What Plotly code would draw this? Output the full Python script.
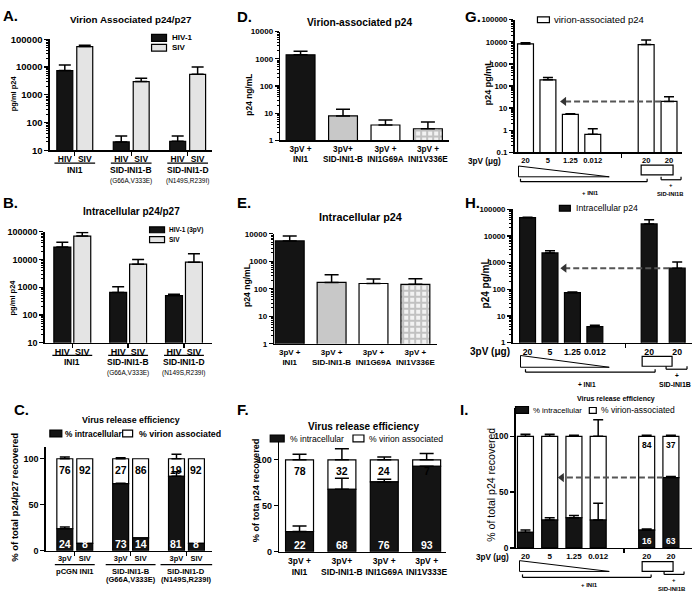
import plotly.graph_objects as go

W, H = 696, 600
FONT = "Liberation Sans, Arial, sans-serif"

# ---------------- data ----------------
# Panel A  (virion associated p24/p27, pg/ml)
A_groups = ["INI1", "SID-INI1-B", "SID-INI1-D"]
A_subs = ["", "(G66A,V333E)", "(N149S,R239I)"]
A_pair = ["HIV", "SIV"]
A_hiv = [7500, 20, 21]
A_hiv_err = [4500, 13, 12]
A_siv = [55000, 3000, 5500]
A_siv_err = [7000, 1000, 4500]
# Panel B  (intracellular p24/p27)
B_hiv = [28000, 650, 500]
B_hiv_err = [14000, 400, 60]
B_siv = [70000, 6800, 8000]
B_siv_err = [25000, 3200, 8000]
# Panel C  (release efficiency, %)
C_groups = ["pCGN INI1", "SID-INI1-B", "SID-INI1-D"]
C_subs = ["", "(G66A,V333E)", "(N149S,R239I)"]
C_pair = ["3pV", "SIV"]
C_3pv_intra = [24, 73, 81]
C_3pv_intra_err = [2, 0.5, 5]
C_3pv_vir = [76, 27, 19]
C_3pv_tot_err = [2, 1, 5]
C_siv_intra = [8, 14, 8]
C_siv_vir = [92, 86, 92]
# Panels D / E / F
D_cats = ["3pV +<br>INI1", "3pV+<br>SID-INI1-B", "3pV +<br>INI1G69A", "3pV +<br>INI1V336E"]
D_vals = [1400, 8, 3.7, 2.7]
D_err = [500, 6, 2, 2.1]
E_cats = ["3pV +<br>INI1", "3pV +<br>SID-INI1-B", "3pV +<br>INI1G69A", "3pV +<br>INI1V336E"]
E_vals = [5500, 170, 155, 145]
E_err = [2700, 150, 70, 85]
F_cats = ["3pV +<br>INI1", "3pV+<br>SID-INI1-B", "3pV +<br>INI1G69A", "3pV +<br>INI1V333E"]
F_intra = [22, 68, 76, 93]
F_intra_err = [6, 12, 3, 0]
F_vir = [78, 32, 24, 7]
F_tot_err = [6, 12, 3, 7]
# Panels G / H / I
GHI_doses = ["20", "5", "1.25", "0.012", "20", "20"]
G_vals = [8000, 190, 5.2, 0.65, 7500, 20]
G_err = [1000, 50, 0.3, 0.5, 4500, 13]
H_vals = [48000, 2300, 75, 4, 28000, 620]
H_err = [2000, 500, 5, 0.5, 12000, 430]
I_intra = [14, 25, 27, 25, 16, 63]
I_intra_err = [2, 2, 2, 15, 1, 1]
I_vir = [86, 75, 73, 75, 84, 37]
I_tot_err = [2, 2, 1, 15, 1, 1]
I_labelled = [4, 5]

# ---------------- helpers ----------------
fig = go.Figure()
layout = {}
annotations = []
shapes = []


def sfx(i):
    return "" if i == 1 else str(i)


def PX(p):
    return p / W


def PY(p):
    return 1 - p / H


def minor_log(lo, hi):
    return [k * 10 ** e for e in range(lo, hi) for k in range(2, 10)]


def add_axes(i, x0, x1, ytop, ybot, ytype, yrange, yticks, yticktext,
             xrange, xtickvals=None, xticktext=None, xminor=None,
             xfont=8.5, yfont=8, yminor=None):
    a = sfx(i)
    xa = dict(domain=[PX(x0), PX(x1)], anchor="y" + a, range=xrange,
              showline=True, linecolor="black", linewidth=1.5,
              showgrid=False, zeroline=False, ticks="", ticklen=0,
              tickvals=xtickvals or [], ticktext=xticktext or [],
              tickfont=dict(size=xfont, color="black", weight="bold", family=FONT),
              fixedrange=True)
    if xminor is not None:
        xa["minor"] = dict(tickvals=xminor, ticks="outside", ticklen=4,
                           tickwidth=1.3, tickcolor="black")
    ya = dict(domain=[PY(ybot), PY(ytop)], anchor="x" + a, type=ytype,
              range=yrange, showline=True, linecolor="black", linewidth=1.5,
              showgrid=False, zeroline=False, ticks="outside", ticklen=4,
              tickwidth=1.3, tickcolor="black", tickvals=yticks,
              ticktext=yticktext,
              tickfont=dict(size=yfont, color="black", weight="bold", family=FONT),
              fixedrange=True)
    if yminor is not None:
        ya["minor"] = dict(tickvals=yminor, ticks="outside", ticklen=2,
                           tickwidth=1, tickcolor="black")
    layout["xaxis" + a] = xa
    layout["yaxis" + a] = ya


def errdict(err, w=5):
    return dict(type="data", symmetric=False, array=err,
                arrayminus=[0] * len(err), color="black", thickness=1.5,
                width=w, visible=True)


def bar(i, xs, ys, err=None, color="black", width=0.8, base=None,
        pattern=None, ew=5):
    a = sfx(i)
    m = dict(color=color, line=dict(color="black", width=1.2))
    if pattern:
        m["pattern"] = pattern
    t = go.Bar(x=xs, y=ys, base=base, width=width, marker=m,
               xaxis="x" + a, yaxis="y" + a, showlegend=False,
               hoverinfo="skip")
    if err is not None:
        t.error_y = errdict(err, ew)
    fig.add_trace(t)


def err_pts(i, xs, tops, err, ew=5):
    a = sfx(i)
    fig.add_trace(go.Scatter(x=xs, y=tops, mode="markers",
                             marker=dict(size=1, color="rgba(0,0,0,0)"),
                             error_y=errdict(err, ew), xaxis="x" + a,
                             yaxis="y" + a, showlegend=False,
                             hoverinfo="skip"))


def arrow(i, x_tail, x_tip, yv):
    a = sfx(i)
    fig.add_trace(go.Scatter(x=[x_tail, x_tip], y=[yv, yv], mode="lines",
                             line=dict(color="#555555", width=2, dash="6px,3px"),
                             xaxis="x" + a, yaxis="y" + a, showlegend=False,
                             hoverinfo="skip"))
    fig.add_trace(go.Scatter(x=[x_tip], y=[yv], mode="markers",
                             marker=dict(symbol="triangle-left", size=8,
                                         color="#333333"),
                             xaxis="x" + a, yaxis="y" + a, showlegend=False,
                             hoverinfo="skip"))


def T(text, x, y, size=8, bold=True, xanchor="center", yanchor="middle",
      angle=0, color="black", xref="paper", yref="paper", yshift=0):
    annotations.append(dict(
        text=text, x=x if xref != "paper" else PX(x),
        y=y if yref != "paper" else PY(y), xref=xref, yref=yref,
        showarrow=False, xanchor=xanchor, yanchor=yanchor, textangle=angle,
        yshift=yshift, borderpad=0,
        font=dict(size=size, color=color, family=FONT,
                  weight="bold" if bold else "normal")))


def line(x0, y0, x1, y1, w=1.2, color="black"):
    shapes.append(dict(type="line", xref="paper", yref="paper",
                       x0=PX(x0), x1=PX(x1), y0=PY(y0), y1=PY(y1),
                       line=dict(color=color, width=w)))


def rect(x0, y0, x1, y1, fill="white", w=1.2):
    shapes.append(dict(type="rect", xref="paper", yref="paper",
                       x0=PX(x0), x1=PX(x1), y0=PY(y0), y1=PY(y1),
                       fillcolor=fill, line=dict(color="black", width=w)))


def wedge(x0, ytop, ybot, x1):
    path = "M {a},{b} L {a},{c} L {d},{c} Z".format(
        a=PX(x0), b=PY(ytop), c=PY(ybot), d=PX(x1))
    shapes.append(dict(type="path", xref="paper", yref="paper", path=path,
                       fillcolor="white", line=dict(color="black", width=1)))


def bracket(x0, x1, y, up=3, w=1.2):
    line(x0, y, x1, y, w)
    line(x0, y, x0, y - up, w)
    line(x1, y, x1, y - up, w)


def underline(i, c, half, y):
    shapes.append(dict(type="line", xref="x" + sfx(i), yref="paper",
                       x0=c - half, x1=c + half, y0=PY(y), y1=PY(y),
                       line=dict(color="black", width=1.2)))


LOG_TXT = {0.1: "0.1", 1: "1", 10: "10", 100: "100", 1000: "1000",
           10000: "10000", 100000: "100000"}


def logticks(lo, hi):
    vals = [10 ** e if e >= 0 else 0.1 for e in range(lo, hi + 1)]
    return vals, [LOG_TXT[v] for v in vals]


# =============== Panel A ===============
gapA = 2.83
xh = [g * gapA for g in range(3)]
xs_ = [g * gapA + 1 for g in range(3)]
tv, tt = logticks(1, 5)
add_axes(1, 50, 213, 34, 147, "log", [1, 5], tv, tt, [-0.75, 7.4],
         xtickvals=xh + xs_, xticktext=[A_pair[0]] * 3 + [A_pair[1]] * 3,
         xminor=[g * gapA + 0.5 for g in range(3)], yminor=minor_log(1, 5),
         xfont=8.5, yfont=9.5)
bar(1, xh, A_hiv, A_hiv_err, "#141414", 0.8, ew=6)
bar(1, xs_, A_siv, A_siv_err, "#e4e4e4", 0.8, ew=6)
for g in range(3):
    c = g * gapA + 0.5
    underline(1, c, 1.02, 160)
    T(A_groups[g], c, 167, 8.5, xref="x")
    if A_subs[g]:
        T(A_subs[g], c, 178, 6.5, bold=False, xref="x")
T("Virion Associated p24/p27", 131, 14, 9.8)
T("A.", 2, 10, 15, xanchor="left")
T("pg/ml p24", 13, 89, 7.5, angle=-90)
rect(152, 29, 167, 36, "#141414")
rect(152, 39, 167, 46, "#e4e4e4")
T("HIV-1", 171, 32, 8, xanchor="left")
T("SIV", 171, 42, 8, xanchor="left")

# =============== Panel B ===============
gapB = 2.8
xh = [g * gapB for g in range(3)]
xs_ = [g * gapB + 1 for g in range(3)]
add_axes(2, 45, 213, 230, 343, "log", [1, 5], tv, tt, [-0.875, 7.525],
         xtickvals=xh + xs_, xticktext=[A_pair[0]] * 3 + [A_pair[1]] * 3,
         xminor=[g * gapB + 0.5 for g in range(3)], yminor=minor_log(1, 5),
         xfont=9, yfont=9)
bar(2, xh, B_hiv, B_hiv_err, "#141414", 0.85, ew=6)
bar(2, xs_, B_siv, B_siv_err, "#e4e4e4", 0.85, ew=6)
for g in range(3):
    c = g * gapB + 0.5
    underline(2, c, 1.0, 356)
    T(A_groups[g], c, 363, 8.5, xref="x2")
    if A_subs[g]:
        T(A_subs[g], c, 374, 6.5, bold=False, xref="x2")
T("Intracellular p24/p27", 132, 209, 10)
T("B.", 2, 200, 15, xanchor="left")
T("pg/ml p24", 13, 297, 7.5, angle=-90)
rect(150, 225, 165, 231, "#141414")
rect(150, 235, 165, 241, "#e4e4e4")
T("HIV-1 (3pV)", 168, 228, 6.5, xanchor="left")
T("SIV", 168, 238, 6.5, xanchor="left")

# =============== Panel C ===============
gapC = 2.8
x3 = [g * gapC for g in range(3)]
xS = [g * gapC + 1 for g in range(3)]
add_axes(3, 46, 213, 449, 555, "linear", [0, 113], [0, 50, 100],
         ["0", "50", "100"], [-0.95, 7.4],
         xtickvals=x3 + xS, xticktext=[C_pair[0]] * 3 + [C_pair[1]] * 3,
         xminor=[g * gapC + 0.5 for g in range(3)], xfont=7.5, yfont=9)
bar(3, x3, C_3pv_vir, None, "white", 0.8, base=C_3pv_intra)
bar(3, xS, C_siv_vir, None, "white", 0.8, base=C_siv_intra)
bar(3, x3, C_3pv_intra, C_3pv_intra_err, "#141414", 0.8)
bar(3, xS, C_siv_intra, None, "#141414", 0.8)
err_pts(3, x3, [a + b for a, b in zip(C_3pv_intra, C_3pv_vir)], C_3pv_tot_err)
for xs_l, ins, vis in ((x3, C_3pv_intra, C_3pv_vir), (xS, C_siv_intra, C_siv_vir)):
    for xv, iv, vv in zip(xs_l, ins, vis):
        T(str(iv), xv, 0, 10.5, xref="x3", yref="y3", yanchor="bottom",
          color="white", yshift=0)
        T(str(vv), xv, iv + vv, 10.5, xref="x3", yref="y3", yanchor="top",
          yshift=-4)
halfC = [1.0, 1.25, 1.3]
for g in range(3):
    c = g * gapC + 0.5
    underline(3, c, halfC[g], 569)
    T(C_groups[g], c, 576, 7.6, xref="x3")
    if C_subs[g]:
        T(C_subs[g], c, 584, 7.5, xref="x3")
T("Virus release efficiency", 131, 422, 8.8)
T("C.", 13, 411, 15, xanchor="left")
T("% of total p24/p27 recovered", 15, 500, 9.5, angle=-90)
rect(50, 432, 62, 439, "#141414")
rect(123, 432, 133, 439, "white")
T("% intracellular", 64, 436, 8.3, xanchor="left")
T("% virion associated", 138, 436, 8.8, xanchor="left")

# =============== Panel D ===============
xd = list(range(4))
tvD, ttD = logticks(0, 4)
add_axes(4, 281, 450, 26, 137, "log", [0, 4], tvD, ttD, [-0.48, 3.49],
         xtickvals=xd, xticktext=D_cats, yminor=minor_log(0, 4), xfont=8.2,
         yfont=8)
checker = dict(shape="+", fgcolor="#909090", bgcolor="#f2f2f2", size=6,
               solidity=0.55)
bar(4, [xd[0]], [D_vals[0]], [D_err[0]], "#141414", 0.68, ew=7)
bar(4, [xd[1]], [D_vals[1]], [D_err[1]], "#c8c8c8", 0.68, ew=7)
bar(4, [xd[2]], [D_vals[2]], [D_err[2]], "white", 0.68, ew=7)
bar(4, [xd[3]], [D_vals[3]], [D_err[3]], "#d8d8d8", 0.68, pattern=checker, ew=7)
T("Virion-associated p24", 361, 17, 10.2)
T("D.", 237, 11, 15, xanchor="left")
T("p24 ng/mL", 250, 90, 8.4, angle=-90)

# =============== Panel E ===============
add_axes(5, 275, 438, 232, 344, "log", [0, 4], tvD, ttD, [-0.37, 3.51],
         xtickvals=xd, xticktext=E_cats, yminor=minor_log(0, 4), xfont=8,
         yfont=8)
bar(5, [xd[0]], [E_vals[0]], [E_err[0]], "#141414", 0.69, ew=7)
bar(5, [xd[1]], [E_vals[1]], [E_err[1]], "#c8c8c8", 0.69, ew=7)
bar(5, [xd[2]], [E_vals[2]], [E_err[2]], "white", 0.69, ew=7)
bar(5, [xd[3]], [E_vals[3]], [E_err[3]], "#d8d8d8", 0.69, pattern=checker, ew=7)
T("Intracellular p24", 362, 215, 10.8)
T("E.", 237, 200, 15, xanchor="left")
T("p24 ng/mL", 247, 285, 8.6, angle=-90)

# =============== Panel F ===============
add_axes(6, 280, 447, 437, 556, "linear", [0, 127], [0, 50, 100],
         ["0", "50", "100"], [-0.48, 3.45],
         xtickvals=xd, xticktext=F_cats, xfont=8.5, yfont=9)
bar(6, xd, F_vir, None, "white", 0.66, base=F_intra)
bar(6, xd, F_intra, F_intra_err, "#141414", 0.66, ew=7)
err_pts(6, xd, [a + b for a, b in zip(F_intra, F_vir)], F_tot_err, ew=7)
for xv, iv, vv in zip(xd, F_intra, F_vir):
    T(str(iv), xv, 0, 10.5, xref="x6", yref="y6", yanchor="bottom",
      color="white", yshift=0)
    T(str(vv), xv, iv + vv, 10.5, xref="x6", yref="y6", yanchor="top",
      yshift=-4)
T("Virus release efficiency", 365, 428, 10)
T("F.", 237, 411, 15, xanchor="left")
T("% of tota p24 recovered", 257, 493, 9.2, angle=-90)
rect(271, 437, 285, 444, "#141414")
rect(354, 437, 365, 444, "white")
T("% intracellular", 290, 441, 8.6, bold=False, xanchor="left")
T("% virion associated", 369, 441, 8.6, bold=False, xanchor="left")

# =============== Panel G ===============
xg = [0, 1, 2, 3, 5.38, 6.4]
wg = 0.71
tvG, ttG = logticks(-1, 5)
add_axes(7, 516, 684, 14, 149, "log", [-1, 5], tvG, ttG, [-0.49, 6.98],
         xtickvals=xg, xticktext=GHI_doses, xminor=[4.27],
         yminor=minor_log(-1, 5), xfont=7.6, yfont=7.8)
bar(7, xg, G_vals, G_err, "white", wg)
arrow(7, xg[5] - wg / 2, 1.72, G_vals[5])
T("G.", 465, 11, 15, xanchor="left")
T("p24 pg/mL", 489, 78, 9, angle=-90)
rect(539, 11, 551, 17, "white")
T("virion-associated p24", 555, 14, 9.5, bold=False, xanchor="left")
T("3pV (μg)", 486, 158, 8.2)
wedge(520, 163, 174, 611)
rect(643, 162, 675, 172, "white")
bracket(522, 649, 179)
T("+ INI1", 592, 190, 6)
bracket(663, 683, 177)
T("+", 673, 182, 6)
T("SID-INI1B", 672, 192, 5.8)

# =============== Panel H ===============
xhh = [0, 1, 2, 3, 5.42, 6.67]
wh = 0.71
tvH, ttH = logticks(0, 5)
add_axes(8, 514, 694, 207, 343, "log", [0, 5], tvH, ttH, [-0.67, 7.33],
         xtickvals=xhh, xticktext=GHI_doses, xminor=[4.36],
         yminor=minor_log(0, 5), xfont=8.7, yfont=7.8)
bar(8, xhh, H_vals, H_err, "#141414", wh)
arrow(8, xhh[5] - wh / 2, 1.64, H_vals[5])
T("H.", 465, 200, 15, xanchor="left")
T("p24 pg/mL", 487, 283, 10, angle=-90)
rect(561, 203, 572, 209, "#141414")
T("Intracellular p24", 577, 206, 8.7, bold=False, xanchor="left")
T("3pV (μg)", 491, 352, 10)
wedge(522, 356, 368, 611)
rect(644, 357, 674, 367, "white")
bracket(527, 657, 373)
T("+ INI1", 589, 386, 6.5)
bracket(668, 689, 370)
T("+", 679, 376, 6.5)
T("SID-INI1B", 677, 386, 7)

# =============== Panel I ===============
xi = [0, 1, 2, 3, 5, 6]
wi = 0.66
add_axes(9, 517, 694, 410, 552, "linear", [0, 125], [0, 50, 100],
         ["0", "50", "100"], [-0.41, 6.87],
         xtickvals=xi, xticktext=GHI_doses, xminor=[4.07], xfont=8,
         yfont=8.4)
bar(9, xi, I_vir, None, "white", wi, base=I_intra)
bar(9, xi, I_intra, I_intra_err, "#141414", wi)
err_pts(9, xi, [a + b for a, b in zip(I_intra, I_vir)], I_tot_err)
arrow(9, xi[5] - wi / 2, 1.5, I_intra[5])
for k in I_labelled:
    T(str(I_intra[k]), xi[k], 0, 8.5, xref="x9", yref="y9", yanchor="bottom",
      color="white", yshift=1)
    T(str(I_vir[k]), xi[k], I_intra[k] + I_vir[k], 8.5, xref="x9", yref="y9",
      yanchor="top", yshift=-3)
T("Virus release efficiency", 618, 400, 7)
T("I.", 460, 411, 15, xanchor="left")
T("% of total p24 recovered", 492, 488, 10.5, bold=False, angle=-90)
rect(517, 408, 530, 415, "#141414")
rect(591, 409, 598, 415, "white")
T("% intracellular", 534, 412, 7.8, bold=False, xanchor="left")
T("% virion-associated", 602, 412, 8.5, bold=False, xanchor="left")
T("3pV (μg)", 494, 562, 8.2)
wedge(521, 565, 576, 611)
rect(644, 566, 675, 576, "white")
bracket(524, 653, 582)
T("+ INI1", 591, 590, 6)
bracket(666, 686, 579)
T("+", 676, 585, 6)
T("SID-INI1B", 674, 594, 6)

fig.update_layout(**layout)
fig.update_layout(width=W, height=H, margin=dict(l=0, r=0, t=0, b=0),
                  paper_bgcolor="white", plot_bgcolor="white",
                  barmode="overlay", showlegend=False,
                  font=dict(family=FONT, color="black"),
                  annotations=annotations, shapes=shapes)
fig.write_html("out.html",
               config={"displayModeBar": False, "staticPlot": True},
               post_script="document.body.style.margin='0';"
                           "document.body.style.padding='0';")
